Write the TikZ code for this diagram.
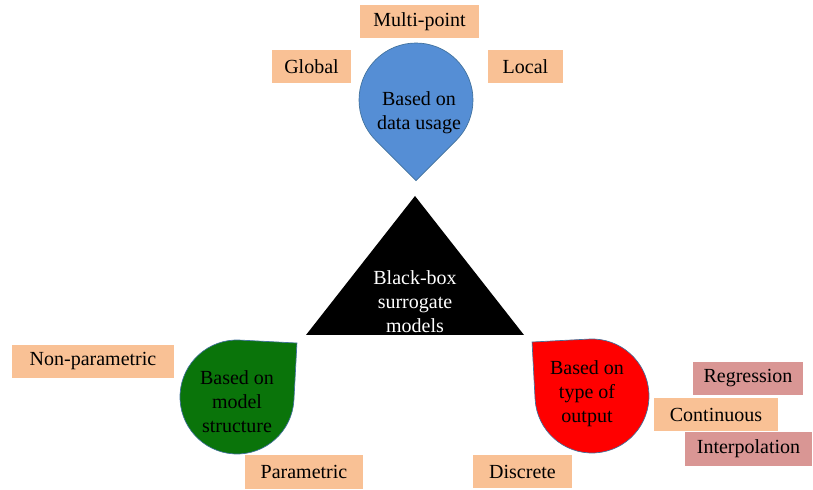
\documentclass[tikz,border=0pt]{standalone}
\usepackage{fontspec}
\setmainfont{Liberation Serif}
\usetikzlibrary{positioning}
\definecolor{dropblue}{HTML}{558ED5}
\definecolor{dropgreen}{HTML}{0A740A}
\definecolor{dropred}{HTML}{FF0000}
\definecolor{dropline}{HTML}{41719C}
\definecolor{tagorange}{HTML}{F9C195}
\definecolor{tagpink}{HTML}{D99694}
\tikzset{
    every node/.style={
        font=\fontsize{15}{18}\selectfont,
        align=center},
    tag/.style={
        fill=tagorange,
        minimum height=25pt,
        inner sep=0pt},
    drop/.pic={
        \path[pic actions] (45:42.75pt) arc[start angle=45, end angle=315, radius=42.75pt]
            -- (60.5pt,0) -- cycle;}}

\begin{document}
\begin{tikzpicture}[x=0.75pt,y=0.75pt]
        \useasboundingbox (0,0) rectangle (813,489);

        % centre
        \fill[black] (415,293) -- (306,154) -- (524,154) -- cycle;
        \node[text=white] (blackbox) at (415,187) {Black-box\\surrogate\\models};

        % data usage
        \pic[fill=dropblue, draw=dropline, line width=0.5pt, rotate=-90] at (416,389) {drop};
        \node (usage) at (419,376) {Based on\\data usage};
        \node[tag, minimum width=89pt] (multi) at (419.5,467.5) {Multi-point};
        \node[tag, minimum width=59pt] (global) at (311.5,422.5) {Global};
        \node[tag, minimum width=56pt] (local) at (525.5,422.5) {Local};

        % model structure
        \pic[fill=dropgreen, draw=dropline, line width=0.5pt, rotate=42] at (237,92) {drop};
        \node (structure) at (237,87) {Based on\\model\\structure};
        \node[tag, minimum width=121.5pt] (nonpar) at (93,127.5) {Non-parametric};
        \node[tag, minimum width=88.5pt] (par) at (304,17) {Parametric};

        % type of output
        \pic[fill=dropred, draw=dropline, line width=0.5pt, rotate=138] at (592,93) {drop};
        \node (output) at (587,95) {Based on\\type of\\output};
        \node[tag, minimum width=74pt] (discrete) at (522.5,17.5) {Discrete};
        \node[tag, fill=tagpink, minimum width=82.5pt] (regression) at (748,110.5) {Regression};
        \node[tag, fill=tagpink, minimum width=95pt] (interp) at (748.5,40) {Interpolation};
        \node[tag, minimum width=93pt] (continuous) at (716,74.5) {Continuous};
    \end{tikzpicture}
\end{document}
